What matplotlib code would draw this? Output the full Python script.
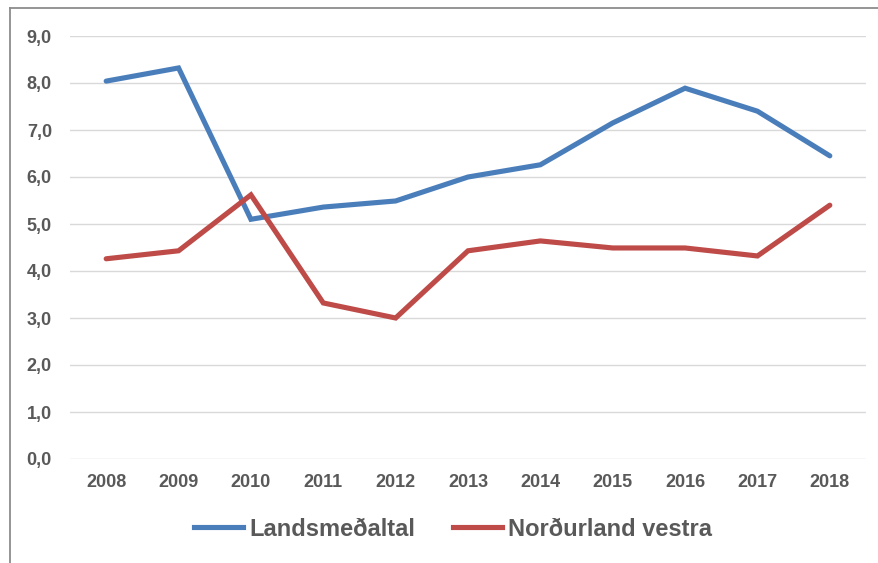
import matplotlib
matplotlib.use("Agg")
import matplotlib.pyplot as plt
from matplotlib.lines import Line2D

years = ["2008", "2009", "2010", "2011", "2012", "2013", "2014", "2015", "2016", "2017", "2018"]
landsmedaltal = [8.04, 8.32, 5.10, 5.36, 5.49, 6.00, 6.26, 7.15, 7.89, 7.40, 6.45]
nordurland_vestra = [4.26, 4.43, 5.62, 3.32, 3.00, 4.43, 4.64, 4.49, 4.49, 4.32, 5.40]
series_names = ["Landsmeðaltal", "Norðurland vestra"]
yticks = [0, 1, 2, 3, 4, 5, 6, 7, 8, 9]

W, H = 879, 563
fig = plt.figure(figsize=(W / 100, H / 100), dpi=100)
plt.rcParams['font.family'] = ['Liberation Sans', 'DejaVu Sans']

text_color = "#595959"
blue = "#4A7EBB"
red = "#BE4B48"

ax = fig.add_axes([70 / W, (H - 459) / H, 796 / W, 423 / H])
x = list(range(len(years)))
ax.plot(x, landsmedaltal, color=blue, lw=3.7, solid_capstyle='round', solid_joinstyle='miter', label=series_names[0], zorder=3)
ax.plot(x, nordurland_vestra, color=red, lw=3.7, solid_capstyle='round', solid_joinstyle='miter', label=series_names[1], zorder=3)

ax.set_xlim(-0.5, len(years) - 0.5)
ax.set_ylim(0, 9)
ax.set_xticks(x)
ax.set_xticklabels(years)
ax.set_yticks(yticks)
ax.set_yticklabels([f"{v:.1f}".replace(".", ",") for v in yticks])
for s in ax.spines.values():
    s.set_visible(False)
ax.tick_params(axis='both', length=0, colors=text_color, labelsize=13)
ax.tick_params(axis='y', pad=13)
ax.tick_params(axis='x', pad=11)
for lab in ax.get_xticklabels() + ax.get_yticklabels():
    lab.set_fontweight('bold')
ax.yaxis.grid(True, color="#D9D9D9", lw=1.0)
ax.set_axisbelow(True)

handles = [Line2D([], [], color=blue, lw=3.7), Line2D([], [], color=red, lw=3.7)]
leg = fig.legend(handles, series_names, loc='center', ncol=2,
                 bbox_to_anchor=(453 / W, 1 - 529 / H), frameon=False,
                 prop={'size': 17, 'weight': 'bold'}, handlelength=2.1,
                 handletextpad=0.25, columnspacing=1.6)
for t in leg.get_texts():
    t.set_color(text_color)

# outer frame (left and top edges visible)
fig.add_artist(Line2D([10 / W, 10 / W], [0, 1 - 8 / H], color="#8C8C8C", lw=1.3, transform=fig.transFigure))
fig.add_artist(Line2D([10 / W, 1], [1 - 8 / H, 1 - 8 / H], color="#8C8C8C", lw=1.3, transform=fig.transFigure))

fig.savefig("out.png", dpi=100, facecolor="white")
